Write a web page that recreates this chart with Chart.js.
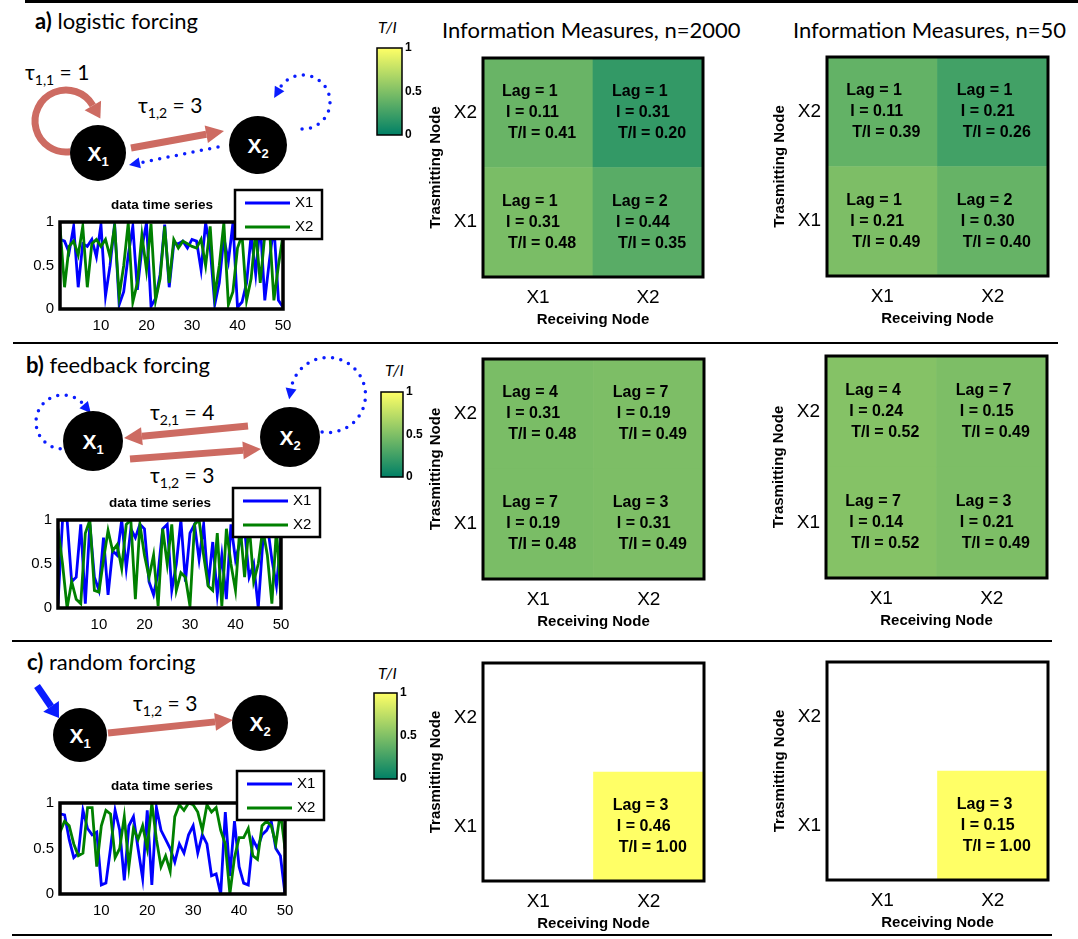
<!DOCTYPE html>
<html>
<head>
<meta charset="utf-8">
<script src="https://cdn.jsdelivr.net/npm/chart.js@4.4.1/dist/chart.umd.min.js"></script>
<style>
  body { margin: 0; background: #fff; }
  #page { position: relative; width: 1078px; height: 939px; overflow: hidden; }
  canvas, .abs { position: absolute; }
  .rule { position: absolute; background: #000; height: 2px; }
  .sec { position: absolute; font-family: Lato, "Open Sans", sans-serif; font-size: 22px; line-height: 1; white-space: nowrap; }
  .ttl { position: absolute; font-family: Lato, "Open Sans", sans-serif; font-size: 22px; line-height: 1; white-space: nowrap; }
  .cbl { position: absolute; font-family: Lato, "Open Sans", sans-serif; font-style: italic; font-size: 16px; line-height: 1; }
</style>
</head>
<body>
<div id="page">
  <svg id="diagram" class="abs" style="left:0;top:0" width="370" height="939"></svg>

  <div class="rule" style="left:25px;top:0px;width:1053px;height:3px"></div>
  <div class="rule" style="left:13px;top:342px;width:1045px"></div>
  <div class="rule" style="left:12px;top:640px;width:1040px"></div>
  <div class="rule" style="left:12px;top:934px;width:1040px"></div>

  <div class="sec" style="left:35px;top:10px"><b>a)</b> logistic forcing</div>
  <div class="sec" style="left:26px;top:354px"><b>b)</b> feedback forcing</div>
  <div class="sec" style="left:27px;top:651px"><b>c)</b> random forcing</div>

  <div class="ttl" style="left:442px;top:19px">Information Measures, n=2000</div>
  <div class="ttl" style="left:793px;top:19px">Information Measures, n=50</div>

  <div class="cbl" style="left:378px;top:19px">T/I</div>
  <div class="cbl" style="left:385px;top:362px">T/I</div>
  <div class="cbl" style="left:378px;top:665px">T/I</div>

  <canvas id="tsA" style="left:30px;top:185px" width="300" height="150"></canvas>
  <canvas id="tsB" style="left:28px;top:483px" width="300" height="151"></canvas>
  <canvas id="tsC" style="left:30px;top:766px" width="300" height="154"></canvas>

  <canvas id="cbA" style="left:375px;top:40px" width="51" height="103"></canvas>
  <canvas id="cbB" style="left:379px;top:384px" width="48" height="101"></canvas>
  <canvas id="cbC" style="left:372px;top:685px" width="49" height="102"></canvas>

  <canvas id="mA2000" style="left:420px;top:55px" width="286" height="277"></canvas>
  <canvas id="mA50" style="left:764px;top:54px" width="287" height="277"></canvas>
  <canvas id="mB2000" style="left:420px;top:356px" width="287" height="278"></canvas>
  <canvas id="mB50" style="left:763px;top:353px" width="287" height="280"></canvas>
  <canvas id="mC2000" style="left:420px;top:660px" width="287" height="276"></canvas>
  <canvas id="mC50" style="left:764px;top:659px" width="287" height="276"></canvas>
</div>

<script>
// time axis of the small series plots
const STEPS = Array.from({ length: 50 }, (_, i) => i + 1);
const TS_XTICKS = [10, 20, 30, 40, 50];
const TS_YTICKS = [0, 0.5, 1];

// a) logistic forcing
const logisticX1 = [0.80, 0.78, 0.65, 0.95, 0.25, 0.75, 0.72, 0.80, 0.60, 0.97,
  0.15, 0.50, 0.98, 0.05, 0.20, 0.62, 0.95, 0.22, 0.70, 0.99,
  0.03, 0.12, 0.40, 0.97, 0.25, 0.75, 0.75, 0.78, 0.70, 0.80,
  0.78, 0.45, 0.99, 0.70, 0.05, 0.30, 0.82, 0.55, 0.99, 0.02,
  0.08, 0.30, 0.85, 0.40, 0.99, 0.10, 0.55, 0.96, 0.10, 0.02];
const logisticX2 = [0.95, 0.25, 0.72, 0.78, 0.62, 0.95, 0.25, 0.75, 0.80, 0.72,
  0.80, 0.60, 0.95, 0.15, 0.50, 0.99, 0.08, 0.30, 0.85, 0.45,
  0.98, 0.10, 0.35, 0.95, 0.30, 0.80, 0.70, 0.78, 0.75, 0.72,
  0.70, 0.80, 0.50, 0.95, 0.15, 0.50, 0.99, 0.05, 0.20, 0.70,
  0.85, 0.10, 0.35, 0.90, 0.30, 0.85, 0.95, 0.10, 0.50, 0.85];

// b) feedback forcing
const feedbackX1 = [0.05, 1.00, 1.00, 0.30, 0.35, 0.95, 0.05, 0.95, 0.35, 0.20,
  0.80, 0.15, 0.65, 0.60, 1.00, 0.45, 0.90, 0.80, 0.95, 0.90,
  0.30, 0.15, 0.40, 0.90, 0.95, 0.20, 0.50, 1.00, 0.30, 0.85,
  0.95, 0.55, 0.95, 0.25, 0.75, 0.15, 0.60, 0.10, 0.95, 0.55,
  0.75, 0.90, 0.35, 0.50, 0.00, 0.75, 0.95, 0.55, 0.25, 0.80];
const feedbackX2 = [0.90, 0.50, 0.00, 0.30, 0.10, 0.05, 0.85, 1.00, 0.20, 0.18,
  0.55, 0.88, 0.65, 0.72, 0.45, 0.95, 1.00, 0.10, 0.95, 0.60,
  0.35, 0.60, 0.02, 0.90, 0.50, 0.95, 0.20, 0.40, 0.35, 0.02,
  0.95, 1.00, 0.60, 0.25, 0.20, 0.85, 0.02, 0.90, 0.50, 0.20,
  0.95, 0.35, 0.95, 0.30, 0.50, 0.90, 0.60, 0.05, 0.90, 0.10];

// c) random forcing
const randomX1 = [0.88, 0.87, 0.60, 0.40, 0.45, 0.92, 0.72, 0.65, 0.68, 0.10,
  0.12, 0.50, 0.92, 0.70, 0.15, 0.75, 0.85, 0.50, 0.17, 0.92,
  0.10, 0.95, 0.70, 0.60, 0.50, 0.35, 0.55, 0.45, 0.65, 0.75,
  0.45, 0.65, 0.55, 0.20, 0.22, 0.00, 0.90, 0.20, 0.80, 0.30,
  0.12, 0.10, 0.60, 0.50, 0.65, 0.70, 0.80, 0.50, 0.42, 0.00];
const randomX2 = [0.68, 0.80, 0.75, 0.55, 0.42, 0.45, 0.95, 0.95, 0.30, 0.75,
  0.92, 0.88, 0.40, 0.50, 0.85, 0.30, 0.72, 0.60, 0.75, 0.50,
  1.00, 0.60, 0.30, 0.42, 0.25, 0.85, 0.98, 0.92, 1.00, 0.98,
  0.90, 0.70, 0.98, 0.90, 0.95, 0.70, 0.55, 0.00, 0.40, 0.62,
  0.62, 0.72, 0.42, 0.38, 0.75, 0.80, 0.75, 0.55, 0.90, 0.50];

// information measures, indexed [transmitting][receiving], X1 first
const NODES = ['X1', 'X2'];
const lagA2000 = [[1, 2], [1, 1]];
const infoA2000 = [[0.31, 0.44], [0.11, 0.31]];
const ratioA2000 = [[0.48, 0.35], [0.41, 0.20]];
const lagA50 = [[1, 2], [1, 1]];
const infoA50 = [[0.21, 0.30], [0.11, 0.21]];
const ratioA50 = [[0.49, 0.40], [0.39, 0.26]];
const lagB2000 = [[7, 3], [4, 7]];
const infoB2000 = [[0.19, 0.31], [0.31, 0.19]];
const ratioB2000 = [[0.48, 0.49], [0.48, 0.49]];
const lagB50 = [[7, 3], [4, 7]];
const infoB50 = [[0.14, 0.21], [0.24, 0.15]];
const ratioB50 = [[0.52, 0.49], [0.52, 0.49]];
const lagC2000 = [[null, 3], [null, null]];
const infoC2000 = [[null, 0.46], [null, null]];
const ratioC2000 = [[null, 1.00], [null, null]];
const lagC50 = [[null, 3], [null, null]];
const infoC50 = [[null, 0.15], [null, null]];
const ratioC50 = [[null, 1.00], [null, null]];

const CBAR_RANGE = [0, 1];
const CBAR_TICKS = [0, 0.5, 1];

const ARIAL = '"Liberation Sans", Arial, sans-serif';

// matlab "summer" colormap
const summer = (v) => v == null ? 'rgba(0,0,0,0)'
  : `rgb(${Math.round(255 * v)},${Math.round(128 + 127 * v)},102)`;

// pin the scale box so the plot area lands where it should
const fixBox = (w, h) => (s) => {
  if (w != null) s.width = w;
  if (h != null) s.height = h;
  s.paddingTop = 0; s.paddingBottom = 0; s.paddingLeft = 0; s.paddingRight = 0;
};

const boxPlugin = {
  id: 'box',
  afterDraw(chart, args, opts) {
    const { ctx, chartArea: a } = chart;
    ctx.save();
    ctx.lineWidth = opts.width || 3;
    ctx.strokeStyle = '#000';
    ctx.strokeRect(a.left, a.top, a.right - a.left, a.bottom - a.top);
    ctx.restore();
  }
};

const seriesDeco = {
  id: 'seriesDeco',
  afterDraw(chart) {
    const { ctx, chartArea: a } = chart;
    ctx.save();
    ctx.fillStyle = '#000';
    ctx.font = 'bold 13.5px ' + ARIAL;
    ctx.textBaseline = 'alphabetic';
    ctx.fillText('data time series', a.left + 51, a.top - 13);

    const bx = a.right - 48, by = a.top - 32, bw = 87, bh = 49;
    ctx.fillStyle = '#fff';
    ctx.fillRect(bx, by, bw, bh);
    ctx.lineWidth = 2.5;
    ctx.strokeStyle = '#000';
    ctx.strokeRect(bx, by, bw, bh);
    chart.data.datasets.forEach((ds, i) => {
      const y = by + 13 + i * 24;
      ctx.strokeStyle = ds.borderColor;
      ctx.lineWidth = 2.8;
      ctx.beginPath();
      ctx.moveTo(bx + 10, y);
      ctx.lineTo(bx + 55, y);
      ctx.stroke();
      ctx.fillStyle = '#000';
      ctx.font = '15px ' + ARIAL;
      ctx.textBaseline = 'middle';
      ctx.fillText(ds.label, bx + 60, y);
    });
    ctx.restore();
  }
};

const cellText = {
  id: 'cellText',
  afterDatasetsDraw(chart) {
    const ctx = chart.ctx;
    ctx.save();
    ctx.font = 'bold 16px ' + ARIAL;
    ctx.fillStyle = '#000';
    ctx.textBaseline = 'middle';
    chart.data.datasets.forEach((ds, r) => {
      chart.getDatasetMeta(r).data.forEach((bar, c) => {
        if (ds.lags[c] == null) return;
        const cy = (bar.y + bar.base) / 2;
        ctx.fillText('Lag = ' + ds.lags[c], bar.x - 36, cy - 21);
        ctx.fillText('I = ' + ds.infos[c].toFixed(2), bar.x - 32, cy);
        ctx.fillText('T/I = ' + ds.ratios[c].toFixed(2), bar.x - 30, cy + 21);
      });
    });
    ctx.restore();
  }
};

const makeSeries = (id, x1, x2, padRight) => {
  new Chart(document.getElementById(id), {
    type: 'line',
    data: {
      datasets: [
        { label: 'X1', data: STEPS.map((t, i) => ({ x: t, y: x1[i] })), borderColor: '#0000ff', order: 1 },
        { label: 'X2', data: STEPS.map((t, i) => ({ x: t, y: x2[i] })), borderColor: '#008000', order: 0 }
      ]
    },
    options: {
      responsive: false,
      animation: false,
      elements: { line: { borderWidth: 2.8, tension: 0 }, point: { radius: 0 } },
      layout: { padding: { top: 37, right: padRight } },
      plugins: { legend: { display: false }, tooltip: { enabled: false }, box: { width: 3.5 } },
      scales: {
        x: {
          type: 'linear', min: 1, max: 50,
          afterBuildTicks: (s) => { s.ticks = TS_XTICKS.map(v => ({ value: v })); },
          grid: { display: false, drawTicks: false },
          border: { display: false },
          ticks: { font: { family: ARIAL, size: 15 }, color: '#000', padding: 8, maxRotation: 0, callback: (v) => v },
          afterFit: fixBox(null, 26)
        },
        y: {
          min: 0, max: 1,
          afterBuildTicks: (s) => { s.ticks = TS_YTICKS.map(v => ({ value: v })); },
          grid: { display: false, drawTicks: false },
          border: { display: false },
          ticks: { font: { family: ARIAL, size: 15 }, color: '#000', padding: 6, callback: (v) => v },
          afterFit: fixBox(30, null)
        }
      }
    },
    plugins: [boxPlugin, seriesDeco]
  });
};

const makeColorbar = (id) => {
  new Chart(document.getElementById(id), {
    type: 'bar',
    data: {
      labels: ['T/I'],
      datasets: [{
        data: [CBAR_RANGE],
        backgroundColor: (c) => {
          const a = c.chart.chartArea;
          if (!a) return null;
          const g = c.chart.ctx.createLinearGradient(0, a.bottom, 0, a.top);
          g.addColorStop(0, summer(CBAR_RANGE[0]));
          g.addColorStop(1, summer(CBAR_RANGE[1]));
          return g;
        },
        barPercentage: 1,
        categoryPercentage: 1,
        borderWidth: 0
      }]
    },
    options: {
      responsive: false,
      animation: false,
      layout: { padding: { left: 2, top: 8, bottom: 8 } },
      plugins: { legend: { display: false }, tooltip: { enabled: false }, box: { width: 1.5 } },
      scales: {
        x: { display: false, afterFit: fixBox(null, 0) },
        y: {
          position: 'right', min: 0, max: 1,
          afterBuildTicks: (s) => { s.ticks = CBAR_TICKS.map(v => ({ value: v })); },
          grid: { display: false, drawTicks: false },
          border: { display: false },
          ticks: { font: { family: ARIAL, size: 12, weight: 'bold' }, color: '#000', padding: 3, callback: (v) => v },
          afterFit: fixBox(24, null)
        }
      }
    },
    plugins: [boxPlugin]
  });
};

const makeMatrix = (id, lag, info, ratio) => {
  new Chart(document.getElementById(id), {
    type: 'bar',
    data: {
      labels: NODES,
      datasets: NODES.map((name, r) => ({
        label: name,
        data: NODES.map((_, c) => ratio[r][c] == null ? null : [r, r + 1]),
        backgroundColor: NODES.map((_, c) => summer(ratio[r][c])),
        lags: lag[r],
        infos: info[r],
        ratios: ratio[r],
        grouped: false,
        barPercentage: 1,
        categoryPercentage: 1,
        borderWidth: 0
      }))
    },
    options: {
      responsive: false,
      animation: false,
      layout: { padding: { top: 3, right: 3 } },
      plugins: { legend: { display: false }, tooltip: { enabled: false }, box: { width: 3 } },
      scales: {
        x: {
          grid: { display: false, drawTicks: false },
          border: { display: false },
          ticks: { font: { family: ARIAL, size: 19 }, color: '#000', padding: 9 },
          title: { display: true, text: 'Receiving Node', color: '#000',
            font: { family: ARIAL, size: 15, weight: 'bold' }, padding: { bottom: 3 } },
          afterFit: fixBox(null, 55)
        },
        y: {
          min: 0, max: 2,
          afterBuildTicks: (s) => { s.ticks = [0.5, 1.5].map(v => ({ value: v })); },
          grid: { display: false, drawTicks: false },
          border: { display: false },
          ticks: { font: { family: ARIAL, size: 19 }, color: '#000', padding: 6,
            callback: (v) => NODES[Math.floor(v)] },
          title: { display: true, text: 'Trasmitting Node', color: '#000',
            font: { family: ARIAL, size: 15, weight: 'bold' }, padding: { top: 7 } },
          afterFit: fixBox(63, null)
        }
      }
    },
    plugins: [boxPlugin, cellText]
  });
};

makeSeries('tsA', logisticX1, logisticX2, 47);
makeSeries('tsB', feedbackX1, feedbackX2, 47);
makeSeries('tsC', randomX1, randomX2, 45);

makeColorbar('cbA');
makeColorbar('cbB');
makeColorbar('cbC');

makeMatrix('mA2000', lagA2000, infoA2000, ratioA2000);
makeMatrix('mA50', lagA50, infoA50, ratioA50);
makeMatrix('mB2000', lagB2000, infoB2000, ratioB2000);
makeMatrix('mB50', lagB50, infoB50, ratioB50);
makeMatrix('mC2000', lagC2000, infoC2000, ratioC2000);
makeMatrix('mC50', lagC50, infoC50, ratioC50);

// network sketches next to each row
const RED = '#cd6b62';
const BLUE = '#0a1cff';
const RAD = Math.PI / 180;

const head = (x, y, ux, uy, len, w, color) => {
  const tx = x + ux * len, ty = y + uy * len;
  const px = -uy * w / 2, py = ux * w / 2;
  return `<polygon points="${tx},${ty} ${x + px},${y + py} ${x - px},${y - py}" fill="${color}"/>`;
};

const strokeAttrs = (o) => o.dotted
  ? `stroke="${o.color}" stroke-width="3.5" stroke-linecap="round" stroke-dasharray="0 8.5" fill="none"`
  : `stroke="${o.color}" stroke-width="${o.w}" fill="none"`;

const straight = (x1, y1, x2, y2, o) => {
  const d = Math.hypot(x2 - x1, y2 - y1);
  const ux = (x2 - x1) / d, uy = (y2 - y1) / d;
  const bx = x2 - ux * o.len, by = y2 - uy * o.len;
  return `<line x1="${x1}" y1="${y1}" x2="${bx}" y2="${by}" ${strokeAttrs(o)}/>` +
    head(bx, by, ux, uy, o.len, o.hw, o.color);
};

const loop = (cx, cy, r, a0, a1, cw, o) => {
  const sx = cx + r * Math.cos(a0 * RAD), sy = cy + r * Math.sin(a0 * RAD);
  const ex = cx + r * Math.cos(a1 * RAD), ey = cy + r * Math.sin(a1 * RAD);
  let span = cw ? a1 - a0 : a0 - a1;
  span = ((span % 360) + 360) % 360;
  const ux = cw ? -Math.sin(a1 * RAD) : Math.sin(a1 * RAD);
  const uy = cw ? Math.cos(a1 * RAD) : -Math.cos(a1 * RAD);
  return `<path d="M${sx},${sy} A${r},${r} 0 ${span > 180 ? 1 : 0} ${cw ? 1 : 0} ${ex},${ey}" ${strokeAttrs(o)}/>` +
    head(ex, ey, ux, uy, o.len, o.hw, o.color);
};

const node = (cx, cy, r, sub) =>
  `<circle cx="${cx}" cy="${cy}" r="${r}" fill="#000"/>` +
  `<text x="${cx}" y="${cy + 8}" text-anchor="middle" font-family='${ARIAL}' font-weight="bold" font-size="21" fill="#fff">X<tspan font-size="13" dy="5">${sub}</tspan></text>`;

const tau = (x, y, sub, val) =>
  `<text x="${x}" y="${y}" font-family="Lato, 'Open Sans', sans-serif" font-size="21" fill="#000">τ<tspan font-size="14" dy="5">${sub}</tspan><tspan dy="-5"> = ${val}</tspan></text>`;

const redArrow = { color: RED, w: 7, len: 18, hw: 18 };
const redLoop = { color: RED, w: 7, len: 15, hw: 19 };
const blueDots = { color: BLUE, dotted: true, len: 11, hw: 11 };
const blueThick = { color: BLUE, w: 7, len: 14, hw: 19 };

document.getElementById('diagram').innerHTML = [
  // a) logistic
  loop(66, 121, 31, 82, 330, true, redLoop),
  straight(131, 148, 224, 131, redArrow),
  straight(218, 147, 129, 165, blueDots),
  loop(303, 102, 27, 92, 210, false, blueDots),
  node(98, 153, 28, '1'),
  node(258, 145, 29, '2'),
  tau(25, 80, '1,1', 1),
  tau(138, 113, '1,2', 3),
  // b) feedback
  straight(248, 426, 124, 438, redArrow),
  straight(130, 459, 261, 449, redArrow),
  loop(63, 422, 27, 96, 320, true, blueDots),
  loop(328, 395, 37.5, 99, 190, false, blueDots),
  node(93, 441, 30, '1'),
  node(290, 437, 30, '2'),
  tau(150, 420, '2,1', 4),
  tau(150, 483, '1,2', 3),
  // c) random
  straight(108, 733, 233, 720, redArrow),
  straight(37, 686, 59, 718, blueThick),
  node(80, 735, 27, '1'),
  node(260, 723, 28, '2'),
  tau(133, 711, '1,2', 3)
].join('');
</script>
</body>
</html>
